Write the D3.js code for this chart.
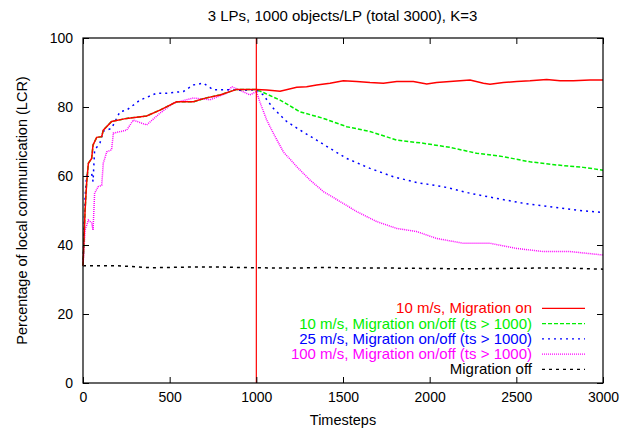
<!DOCTYPE html>
<html lang="en">
<head>
    <meta charset="UTF-8">
    <title>LCR over timesteps</title>
    <script src="https://cdn.jsdelivr.net/npm/d3@7"></script>
    <style>
        body { margin: 0; background: #fff; }
        text { font-family: "Liberation Sans", Arial, Helvetica, sans-serif; }
    </style>
</head>
<body>
    <svg id="chart" width="633" height="433"></svg>

    <script>
        // values
        const redT = [0, 12, 21, 31, 50, 58, 79, 108, 117, 165, 252, 367, 444, 540, 637, 700, 790, 887, 1000,
            1060, 1137, 1233, 1290, 1348, 1425, 1502, 1579, 1656, 1733, 1810, 1906, 1983, 2040, 2117, 2233,
            2310, 2348, 2425, 2502, 2579, 2675, 2752, 2829, 2925, 3000];
        const redV = [34, 50, 58, 63.7, 65.1, 69, 71.2, 71.4, 73.3, 75.8, 76.7, 77.4, 79.1, 81.5, 81.5, 82.5, 83.5, 85.1, 85.1,
            84.9, 84.6, 85.7, 85.9, 86.4, 86.9, 87.6, 87.4, 87.1, 86.9, 87.4, 87.4, 86.7, 87.1, 87.4, 87.8,
            86.9, 86.6, 87.1, 87.4, 87.6, 88, 87.6, 87.6, 87.8, 87.8];

        const greenT = [0, 12, 21, 31, 50, 58, 79, 108, 117, 165, 252, 367, 444, 540, 637, 700, 790, 887, 1000,
            1137, 1252, 1387, 1521, 1656, 1810, 1963, 2117, 2271, 2425, 2579, 2733, 2886, 3000];
        const greenV = [34, 50, 58, 63.7, 65.1, 69, 71.2, 71.4, 73.3, 75.8, 76.7, 77.4, 79.1, 81.5, 81.5, 82.5, 83.5, 85.1, 85.1,
            82, 78.6, 76.7, 74.3, 72.9, 70.4, 69.5, 68.3, 66.6, 65.6, 64.1, 63.2, 62.5, 61.7];

        const blueT = [0, 12, 21, 50, 58, 67, 98, 117, 165, 213, 252, 329, 425, 483, 579, 637, 694, 752, 829, 925, 1000,
            1040, 1098, 1175, 1252, 1348, 1425, 1521, 1656, 1790, 1925, 2079, 2233, 2387, 2540, 2694, 2848, 3000];
        const blueV = [34, 54, 60.2, 60.7, 58.4, 67.5, 69.6, 73, 73.8, 78.6, 79.1, 82, 84, 84, 84.5, 86.4, 86.9, 85, 85, 84.8, 85,
            83.5, 79.6, 75.8, 73.3, 70.4, 68, 65.1, 62.2, 59.8, 58.1, 56.9, 55, 53.5, 52.1, 51.1, 50.1, 49.4];

        const magentaT = [0, 12, 31, 50, 58, 67, 87, 108, 117, 137, 165, 175, 252, 290, 367, 444, 521, 637, 733, 829, 858, 925, 963, 1000,
            1023, 1060, 1098, 1156, 1233, 1310, 1387, 1483, 1579, 1694, 1810, 1925, 2040, 2194, 2348, 2502, 2656, 2810, 3000];
        const magentaV = [34, 44.3, 47.2, 46.4, 44.3, 55, 56.9, 57.3, 63.7, 67, 67.6, 72.4, 73.3, 76.2, 74.8, 78.2, 81.1, 82.6, 82.1, 84, 85.9, 84.4, 83.5, 84.5,
            81.1, 76.2, 72.4, 67, 62.7, 58.8, 55.5, 52.6, 49.7, 46.8, 44.8, 43.9, 41.9, 40.5, 40.5, 39, 38.1, 38.1, 37.1];

        const blackT = [0, 200, 400, 600, 800, 1000, 1200, 1400, 1600, 1800, 2000, 2200, 2400, 2600, 2800, 3000];
        const blackV = [34, 34, 33.4, 33.6, 33.6, 33.4, 33.3, 33.5, 33.3, 33.3, 33.2, 33.1, 33.2, 33.3, 33.3, 33];

        const switchStep = [1000];
        const xTicks = [0, 500, 1000, 1500, 2000, 2500, 3000];
        const yTicks = [0, 20, 40, 60, 80, 100];
        const labels = ["10 m/s, Migration on", "10 m/s, Migration on/off (ts > 1000)",
            "25 m/s, Migration on/off (ts > 1000)", "100 m/s, Migration on/off (ts > 1000)", "Migration off"];

        const series = [
            { t: redT, v: redV, color: "#ff0000", dash: null },
            { t: greenT, v: greenV, color: "#00ee00", dash: "4,2" },
            { t: blueT, v: blueV, color: "#0000ff", dash: "2,4" },
            { t: magentaT, v: magentaV, color: "#ff00ff", dash: "1,1" },
            { t: blackT, v: blackV, color: "#000000", dash: "3,4" }
        ];

        const margin = { left: 83, right: 30, top: 38, bottom: 50 };
        const width = 633, height = 433;

        const svg = d3.select("#chart");

        const x = d3.scaleLinear().domain([0, 3000]).range([margin.left, width - margin.right]);
        const y = d3.scaleLinear().domain([0, 100]).range([height - margin.bottom, margin.top]);

        const plot = svg.append("g");

        // ticks inside the frame on all sides
        svg.append("g")
            .attr("transform", `translate(0,${y(0)})`)
            .call(d3.axisBottom(x).tickValues(xTicks).tickFormat(d3.format("d")).tickSizeInner(-6).tickSizeOuter(0).tickPadding(9))
            .call(g => g.select(".domain").remove());
        svg.append("g")
            .attr("transform", `translate(0,${y(100)})`)
            .call(d3.axisTop(x).tickValues(xTicks).tickSizeInner(-6).tickSizeOuter(0).tickFormat(""))
            .call(g => g.select(".domain").remove());
        svg.append("g")
            .attr("transform", `translate(${x(0)},0)`)
            .call(d3.axisLeft(y).tickValues(yTicks).tickSizeInner(-6).tickSizeOuter(0).tickPadding(10))
            .call(g => g.select(".domain").remove());
        svg.append("g")
            .attr("transform", `translate(${x(3000)},0)`)
            .call(d3.axisRight(y).tickValues(yTicks).tickSizeInner(-6).tickSizeOuter(0).tickFormat(""))
            .call(g => g.select(".domain").remove());

        svg.selectAll(".tick text").attr("font-size", "14px").attr("fill", "#000")
            .style("font-family", "'Liberation Sans', Arial, sans-serif");
        svg.selectAll(".tick line").attr("stroke", "#000");

        // series lines
        const line = d3.line().x(d => x(d[0])).y(d => y(d[1]));
        series.slice().reverse().forEach(s => {
            plot.append("path")
                .datum(s.t.map((t, i) => [t, s.v[i]]))
                .attr("d", line)
                .attr("fill", "none")
                .attr("stroke", s.color)
                .attr("stroke-width", 1.5)
                .attr("stroke-dasharray", s.dash);
        });

        // vertical marker at the switch step
        plot.selectAll(".switch")
            .data(switchStep)
            .join("line")
            .attr("x1", d => x(d)).attr("x2", d => x(d))
            .attr("y1", y(0)).attr("y2", y(100))
            .attr("stroke", "#ff0000")
            .attr("stroke-width", 1.2);

        // frame
        svg.append("rect")
            .attr("x", x(0)).attr("y", y(100))
            .attr("width", x(3000) - x(0)).attr("height", y(0) - y(100))
            .attr("fill", "none").attr("stroke", "#000").attr("stroke-width", 1.2);

        // legend
        const legend = svg.append("g");
        series.forEach((s, i) => {
            const ly = 308.3 + i * 15.25;
            legend.append("text")
                .attr("x", 532).attr("y", ly + 5)
                .attr("text-anchor", "end")
                .attr("font-size", "15px")
                .attr("fill", s.color)
                .text(labels[i]);
            legend.append("line")
                .attr("x1", 542).attr("x2", 585)
                .attr("y1", ly).attr("y2", ly)
                .attr("stroke", s.color)
                .attr("stroke-width", 1.3)
                .attr("stroke-dasharray", s.dash);
        });

        // title and axis labels
        svg.append("text")
            .attr("x", 342.5).attr("y", 20.5)
            .attr("text-anchor", "middle")
            .attr("font-size", "15px")
            .text("3 LPs, 1000 objects/LP (total 3000), K=3");

        svg.append("text")
            .attr("x", x(1500)).attr("y", 425)
            .attr("text-anchor", "middle")
            .attr("font-size", "14.5px")
            .text("Timesteps");

        svg.append("text")
            .attr("transform", `translate(26.5,${y(50)}) rotate(-90)`)
            .attr("text-anchor", "middle")
            .attr("font-size", "14.5px")
            .text("Percentage of local communication (LCR)");
    </script>
</body>
</html>
